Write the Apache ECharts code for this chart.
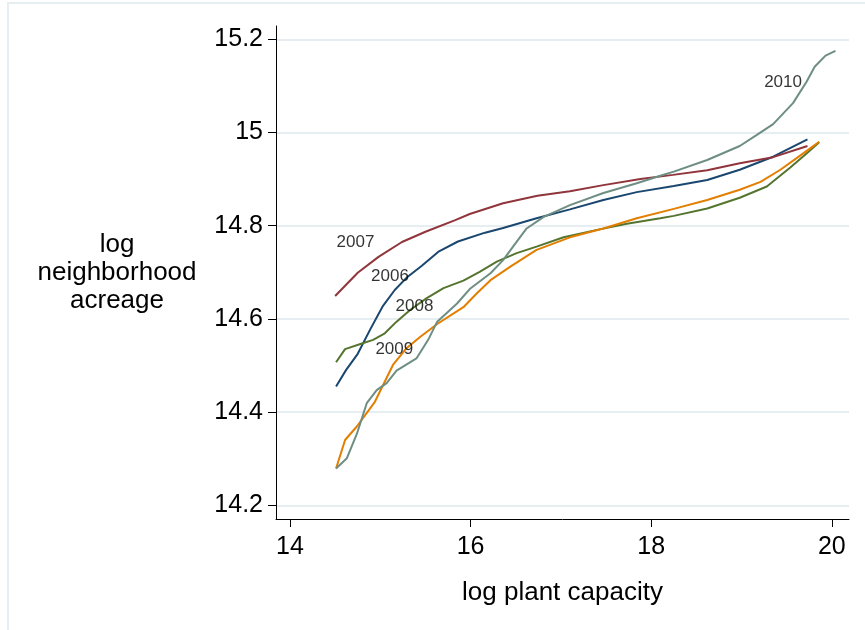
<!DOCTYPE html>
<html><head><meta charset="utf-8">
<script src="https://cdn.jsdelivr.net/npm/echarts@6/dist/echarts.min.js"></script>
<style>html,body{margin:0;padding:0;background:#fff}#c{width:865px;height:630px}</style>
</head><body><div id="c"></div>
<script>
// ---- data ----
const x2006 = [14.51, 14.62, 14.75, 14.89, 15.03, 15.16, 15.30, 15.46, 15.65, 15.86, 16.16, 16.36, 16.73, 17.10, 17.47, 17.84, 18.25, 18.62, 18.98, 19.35, 19.73];
const y2006 = [14.455, 14.490, 14.525, 14.578, 14.628, 14.662, 14.690, 14.714, 14.745, 14.766, 14.785, 14.795, 14.816, 14.835, 14.855, 14.872, 14.885, 14.898, 14.920, 14.948, 14.985];

const x2007 = [14.50, 14.75, 14.98, 15.24, 15.50, 15.83, 15.99, 16.36, 16.74, 17.10, 17.47, 17.88, 18.24, 18.62, 18.98, 19.35, 19.73];
const y2007 = [14.649, 14.699, 14.733, 14.765, 14.787, 14.812, 14.825, 14.848, 14.864, 14.874, 14.887, 14.900, 14.909, 14.919, 14.934, 14.947, 14.971];

const x2008 = [14.51, 14.61, 14.78, 14.92, 15.05, 15.18, 15.33, 15.51, 15.70, 15.92, 16.10, 16.29, 16.51, 16.73, 17.03, 17.40, 17.73, 18.10, 18.25, 18.62, 18.98, 19.28, 19.54, 19.72, 19.86];
const y2008 = [14.507, 14.535, 14.546, 14.555, 14.569, 14.594, 14.619, 14.644, 14.666, 14.682, 14.701, 14.723, 14.741, 14.755, 14.775, 14.791, 14.804, 14.816, 14.821, 14.837, 14.860, 14.884, 14.925, 14.955, 14.979];

const x2009 = [14.51, 14.61, 14.74, 14.94, 15.14, 15.29, 15.44, 15.63, 15.92, 16.07, 16.22, 16.44, 16.73, 17.10, 17.47, 17.84, 18.25, 18.62, 18.98, 19.21, 19.43, 19.61, 19.76, 19.86];
const y2009 = [14.279, 14.340, 14.369, 14.422, 14.501, 14.537, 14.561, 14.589, 14.625, 14.655, 14.683, 14.712, 14.748, 14.775, 14.794, 14.816, 14.836, 14.855, 14.877, 14.894, 14.920, 14.945, 14.966, 14.980];

const x2010 = [14.51, 14.63, 14.74, 14.85, 14.96, 15.07, 15.18, 15.40, 15.53, 15.63, 15.85, 15.99, 16.22, 16.36, 16.47, 16.62, 16.81, 17.10, 17.47, 17.84, 18.10, 18.25, 18.62, 18.98, 19.17, 19.35, 19.57, 19.72, 19.81, 19.93, 20.04];
const y2010 = [14.279, 14.301, 14.353, 14.419, 14.447, 14.462, 14.489, 14.515, 14.555, 14.594, 14.633, 14.664, 14.698, 14.726, 14.755, 14.794, 14.819, 14.844, 14.870, 14.891, 14.907, 14.916, 14.941, 14.971, 14.995, 15.018, 15.063, 15.109, 15.141, 15.165, 15.175];

const years = ['2006', '2007', '2008', '2009', '2010'];
const xTicks = [14, 16, 18, 20];
const yTicks = [14.2, 14.4, 14.6, 14.8, 15, 15.2];

// curve labels (data coordinates of the label centres)
const labelText = ['2007', '2006', '2008', '2009', '2010'];
const labelX = [14.725, 15.107, 15.379, 15.155, 19.460];
const labelY = [14.764, 14.691, 14.627, 14.535, 15.108];

// ---- chart ----
const FONT = '"Liberation Sans", Arial, Helvetica, sans-serif';
const colors = ['#1a476f', '#90353b', '#55752f', '#e37e00', '#6e8e84'];
const xs = [x2006, x2007, x2008, x2009, x2010];
const ys = [y2006, y2007, y2008, y2009, y2010];

const lineSeries = years.map((yr, i) => ({
  name: yr,
  type: 'line',
  data: xs[i].map((x, j) => [x, ys[i][j]]),
  showSymbol: false,
  symbol: 'none',
  smooth: false,
  lineStyle: { color: colors[i], width: 2 },
  itemStyle: { color: colors[i] },
  z: 3 + i,
  silent: true
}));

const labelSeries = {
  type: 'scatter',
  data: labelX.map((x, i) => [x, labelY[i], labelText[i]]),
  symbolSize: 0,
  silent: true,
  z: 10,
  label: {
    show: true,
    position: 'inside',
    formatter: p => p.data[2],
    fontSize: 17,
    fontFamily: FONT,
    color: '#000'
  }
};

const chart = echarts.init(document.getElementById('c'), null, { renderer: 'canvas' });
chart.setOption({
  animation: false,
  backgroundColor: '#fff',
  textStyle: { fontFamily: FONT },
  graphic: [{
    type: 'rect',
    shape: { x: 8, y: 3, width: 900, height: 700 },
    style: { fill: 'none', stroke: '#e6eef1', lineWidth: 2 },
    z: -1
  }],
  grid: { left: 276, top: 26, right: 16, bottom: 111, containLabel: false },
  xAxis: {
    type: 'value',
    min: 13.845,
    max: 20.19,
    axisLine: { show: true, onZero: false, lineStyle: { color: '#000', width: 1 } },
    axisTick: { show: true, length: 8, customValues: xTicks, lineStyle: { color: '#000', width: 1 } },
    axisLabel: { customValues: xTicks, margin: 16, fontSize: 25, color: '#000', fontFamily: FONT },
    splitLine: { show: false },
    name: 'log plant capacity',
    nameLocation: 'middle',
    nameGap: 61,
    nameTextStyle: { fontSize: 26, color: '#000', fontFamily: FONT }
  },
  yAxis: {
    type: 'value',
    min: 14.1705,
    max: 15.2285,
    axisLine: { show: true, onZero: false, lineStyle: { color: '#000', width: 1 } },
    axisTick: { show: true, length: 8, customValues: yTicks, lineStyle: { color: '#000', width: 1 } },
    axisLabel: { customValues: yTicks, margin: 13, fontSize: 25, color: '#000', fontFamily: FONT },
    splitLine: { show: true, lineStyle: { color: '#e6eef1', width: 2 } },
    name: 'log\nneighborhood\nacreage',
    nameLocation: 'middle',
    nameRotate: 0,
    nameGap: 159,
    nameTextStyle: { fontSize: 26, color: '#000', fontFamily: FONT, align: 'center', verticalAlign: 'middle', lineHeight: 28 }
  },
  series: lineSeries.concat([labelSeries])
});
</script>
</body></html>
